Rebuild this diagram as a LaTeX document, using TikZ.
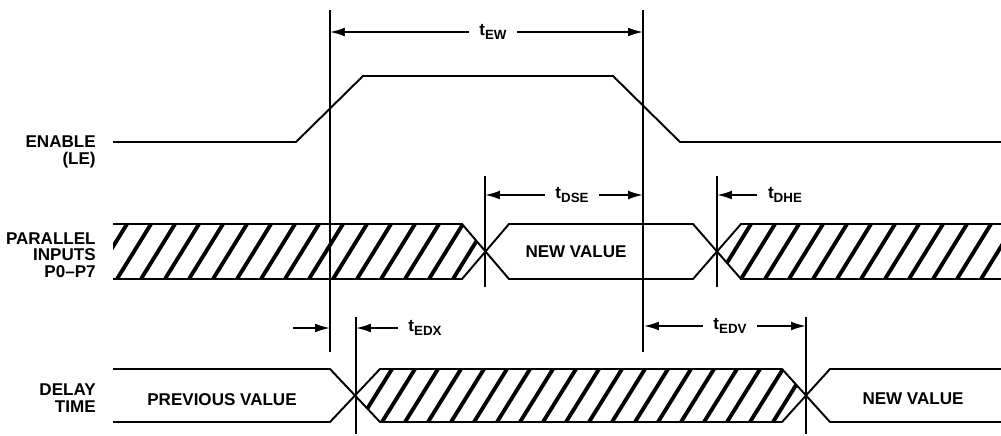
\documentclass[tikz,border=0pt]{standalone}
\usepackage{fontspec}
\setmainfont{Liberation Sans}
\usepackage{tikz}
\usetikzlibrary{positioning, arrows.meta}

\newcommand{\tsub}[1]{t\raisebox{-0.45ex}{\fontsize{7.6}{8}\selectfont #1}}

\begin{document}
\begin{tikzpicture}[-, x=0.02cm, y=-0.02cm, line join=miter,
		sig/.style={line width=1.1pt},
		tline/.style={line width=0.9pt},
		hatch/.style={line width=2.2pt},
		dim/.style={line width=0.9pt, -{Latex[length=8.5pt, width=5pt]}, shorten <=3pt},
		lbl/.style={font=\bfseries\fontsize{9.7}{9.5}\selectfont, align=right, anchor=east, inner sep=0pt},
		val/.style={font=\bfseries\fontsize{9.7}{9.5}\selectfont, inner sep=0pt},
		tm/.style={font=\bfseries\fontsize{9.7}{9.5}\selectfont, inner sep=3pt}]
			\useasboundingbox (0,0) rectangle (1001,436);
			% signal names
			\node[lbl] (n0) at (96,152) {ENABLE\\(LE)};
			\node[lbl] (n1) at (96,255) {PARALLEL\\INPUTS\\P0--P7};
			\node[lbl] (n2) at (96,398) {DELAY\\TIME};
			% enable
			\draw[sig] (113,142) -- (296,142) -- (363,76) -- (613,76) -- (680,142) -- (1001,142);
			% parallel inputs
			\begin{scope}
				\clip (113,224) -- (462,224) -- (485,251.5) -- (462,279) -- (113,279) -- cycle;
				\foreach \x in {69,93,...,480}
					\draw[hatch] (\x,279) -- ++(34,-55);
			\end{scope}
			\begin{scope}
				\clip (1001,224) -- (741,224) -- (717,251.5) -- (741,279) -- (1001,279) -- cycle;
				\foreach \x in {669,693,...,1001}
					\draw[hatch] (\x,279) -- ++(34,-55);
			\end{scope}
			\draw[sig] (113,224) -- (462,224) -- (509,279) -- (693,279) -- (741,224) -- (1001,224);
			\draw[sig] (113,279) -- (462,279) -- (509,224) -- (693,224) -- (741,279) -- (1001,279);
			\node[val] (p0) at (576,252) {NEW VALUE};
			% delay time
			\begin{scope}
				\clip (356,395.5) -- (380,369) -- (782,369) -- (806,395.5) -- (782,422) -- (380,422) -- cycle;
				\foreach \x in {313,336,...,820}
					\draw[hatch] (\x,422) -- ++(33,-53);
			\end{scope}
			\draw[sig] (113,369) -- (330,369) -- (380,422) -- (782,422) -- (830,369) -- (1001,369);
			\draw[sig] (113,422) -- (330,422) -- (380,369) -- (782,369) -- (830,422) -- (1001,422);
			\node[val] (d0) at (222,400) {PREVIOUS VALUE};
			\node[val] (d1) at (913,399) {NEW VALUE};
			% timing marks
			\draw[tline] (330,10) -- (330,352);
			\draw[tline] (643,10) -- (643,352);
			\draw[tline] (485,176) -- (485,287);
			\draw[tline] (717,176) -- (717,287);
			\draw[tline] (356,317) -- (356,434);
			\draw[tline] (806,317) -- (806,434);
			\coordinate (ew0) at (330,32);
			\coordinate (ew1) at (643,32);
			\coordinate (dse0) at (485,195);
			\coordinate (dse1) at (643,195);
			\coordinate (dhe0) at (717,195);
			\coordinate (edx0) at (293,328);
			\coordinate (edx1) at (330,328);
			\coordinate (edx2) at (356,328);
			\coordinate (edv0) at (644,326);
			\coordinate (edv1) at (806,326);
			\node[tm] (ew) at (493,32) {\tsub{EW}};
			\node[tm] (dse) at (572,195) {\tsub{DSE}};
			\node[tm] (dhe) at (785,195) {\tsub{DHE}};
			\node[tm] (edx) at (425,328) {\tsub{EDX}};
			\node[tm] (edv) at (730,326) {\tsub{EDV}};
			\draw[dim] (ew) -- (ew0);
			\draw[dim] (ew) -- (ew1);
			\draw[dim] (dse) -- (dse0);
			\draw[dim] (dse) -- (dse1);
			\draw[dim] (dhe) -- (dhe0);
			\draw[dim, shorten <=0pt] (edx0) -- (edx1);
			\draw[dim] (edx) -- (edx2);
			\draw[dim] (edv) -- (edv0);
			\draw[dim] (edv) -- (edv1);
		\end{tikzpicture}
\end{document}
